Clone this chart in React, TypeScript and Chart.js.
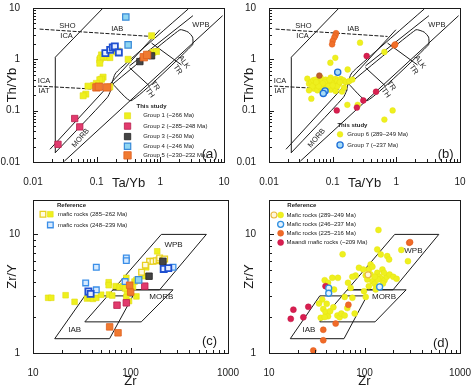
import React, { useEffect, useRef } from "react";
import { Chart, registerables } from "chart.js";
Chart.register(...registerables);

type Pt = [number, number];

// ---------------- Panel (a) : Th/Yb vs Ta/Yb, this study ----------------
const aGroup1: Pt[] = [
  [0.73, 2.88], [0.119, 1.22], [0.112, 0.98], [0.115, 1.05], [0.126, 1.1], [0.146, 1.1],
  [0.161, 1.08], [0.205, 1.4], [0.217, 1.45], [0.312, 1.0], [0.112, 0.84], [0.126, 0.45],
  [0.119, 0.41], [0.112, 0.4], [0.099, 0.34], [0.09, 0.31], [0.073, 0.3], [0.0675, 0.21],
  [0.0613, 0.195], [0.161, 0.29], [0.77, 1.38], [0.87, 1.42], [0.66, 1.25],
];
const aGroup2: Pt[] = [[0.0452, 0.0703], [0.0542, 0.0483], [0.0247, 0.0221]];
const aGroup3: Pt[] = [[0.477, 0.904], [0.728, 1.17]];
const aGroup4: Pt[] = [[0.287, 6.67], [0.312, 1.91]];
const aGroup4b: Pt[] = [[0.137, 1.32], [0.163, 1.53], [0.179, 1.7], [0.193, 1.78], [0.223, 1.36]];
const aGroup5: Pt[] = [[0.099, 0.284], [0.108, 0.293], [0.146, 0.284], [0.55, 1.1], [0.62, 1.22]];

// ---------------- Panel (b) ----------------
const bGroup6: Pt[] = [
  [0.269, 2.11], [0.11, 1.07], [0.092, 0.857], [0.172, 0.634], [0.649, 1.39], [0.0462, 0.171],
  [0.247, 0.13], [0.17, 0.13], [0.875, 0.101], [0.649, 0.067], [0.14, 0.235],
  [0.04, 0.42], [0.0425, 0.336], [0.0462, 0.362], [0.0497, 0.391], [0.054, 0.403], [0.0574, 0.336],
  [0.061, 0.362], [0.0648, 0.441], [0.0688, 0.38], [0.0731, 0.312], [0.0776, 0.403], [0.0824, 0.346],
  [0.0875, 0.391], [0.093, 0.441], [0.0988, 0.336], [0.105, 0.368], [0.111, 0.415], [0.118, 0.38],
  [0.126, 0.336], [0.134, 0.415], [0.147, 0.391], [0.16, 0.362], [0.181, 0.374], [0.204, 0.403],
  [0.0509, 0.268], [0.0574, 0.249], [0.0648, 0.281], [0.0824, 0.281], [0.093, 0.256], [0.105, 0.289],
  [0.111, 0.241], [0.048, 0.298], [0.118, 0.298], [0.151, 0.281], [0.0425, 0.249], [0.0688, 0.231],
  [0.075, 0.36], [0.085, 0.3], [0.1, 0.31], [0.07, 0.34], [0.09, 0.4], [0.13, 0.36], [0.06, 0.3],
  [0.055, 0.36],
];
const bGroup7: Pt[] = [[0.12, 0.561], [0.0759, 0.241], [0.0713, 0.217]];
const bOrange: Pt[] = [[0.113, 3.23], [0.11, 2.9], [0.106, 2.65], [0.1, 2.28], [0.098, 1.96], [0.931, 1.87], [0.96, 1.95]];
const bBrown: Pt[] = [[0.0618, 0.483]];
const bMagenta: Pt[] = [[0.342, 1.16], [0.48, 0.234], [0.303, 0.158], [0.116, 0.101], [0.24, 0.115]];

// ---------------- Th/Yb - Ta/Yb field boundaries ----------------
const fOuter: Pt[] = [[0.0224, 0.015], [0.0224, 1.1], [0.126, 10]];
const fArrayUpper: Pt[] = [[0.0185, 0.0177], [0.984, 3.77]];
const fArcCurve: Pt[] = [[0.0224, 0.0152], [0.146, 0.179], [0.165, 0.245], [0.177, 0.367], [0.195, 0.519], [0.237, 0.67], [2.74, 9.56]];
const fArrayUpper2: Pt[] = [[0.327, 0.743], [3.25, 7.08]];
const fWpb: Pt[] = [[0.179, 0.33], [0.348, 0.156], [3.21, 1.92], [3.21, 2.71], [2.74, 3.39], [2.03, 3.77], [0.179, 0.33]];
const fArrayLower: Pt[] = [[0.0311, 0.0104], [9.5, 7.08]];
const fTrTh: Pt[] = [[0.327, 0.69], [0.676, 0.302]];
const fAlkTr: Pt[] = [[0.728, 2.07], [2.15, 0.778]];
const fShoIca: Pt[] = [[0.0127, 3.88], [0.728, 2.79]];
const fIcaIat: Pt[] = [[0.012, 0.302], [0.171, 0.252]];

// ---------------- Panel (c) : Zr/Y vs Zr ----------------
const cRefYellow: Pt[] = [
  [14.3, 2.92], [15.4, 2.92], [21.6, 3.07], [26.7, 2.7], [35.8, 2.88], [38.1, 2.92], [41.2, 2.86],
  [44.6, 2.92], [60.2, 3.11], [59.7, 3.95], [59.7, 3.73], [70.4, 3.66], [77.4, 3.59], [83.7, 3.66],
  [90.6, 4.3], [92.0, 3.21], [90.6, 2.96], [96.6, 2.74], [115, 3.0], [106, 3.6], [110, 4.0],
  [115, 4.13], [140, 4.44], [145, 5.28], [188, 7.2], [88, 3.5], [65, 3.05], [50, 3.1],
];
const cRefYellowOpen: Pt[] = [[157, 5.93], [170, 5.93], [184, 6.0], [196, 6.09], [199, 6.32], [215, 6.09], [224, 6.2], [142, 5.5], [130, 4.8]];
const cRefBlue: Pt[] = [[44.6, 5.28], [34.7, 3.9], [44.6, 3.41], [90.6, 6.32], [90.6, 6.01], [88, 4.0], [273, 5.28]];
const cGroup2: Pt[] = [[140, 3.66], [72.7, 2.53], [90.6, 2.65]];
const cGroup3: Pt[] = [[215, 5.93], [155, 4.44]];
const cGroup4: Pt[] = [[121, 4.13]];
const cGroup4b: Pt[] = [[219, 5.11], [244, 5.2], [37, 3.3], [39, 3.15]];
const cGroup5: Pt[] = [[98, 3.73], [100.4, 3.26], [61.1, 1.66], [74.5, 1.48]];

// ---------------- Panel (d) ----------------
const dRefYellow: Pt[] = [
  [140, 10.9], [59, 6.8], [243, 7.4], [285, 5.95], [173, 6.56], [181, 6.15], [136, 7.47], [148, 6.78],
  [116, 5.58], [111, 5.06], [121, 5.33], [87.5, 5.23], [97, 5.06], [103, 4.5], [80.7, 4.5], [74.6, 4.39],
  [116, 4.59], [136, 4.74], [142, 4.39], [150, 4.22], [162, 4.11], [156, 3.85], [171, 4.39], [183, 4.59],
  [121, 4.03], [128, 3.83], [134, 3.61], [138, 4.17], [111, 3.66], [98.8, 3.32], [71.6, 3.54], [67.2, 3.91],
  [74.6, 2.92], [62, 2.97], [52.7, 4.3], [46, 4.3], [38.3, 4.11], [41.5, 3.91], [48, 3.43], [36.1, 2.82],
  [33.4, 2.61], [40.2, 2.6], [37, 2.35], [39.1, 2.21], [41.5, 2.04], [34.8, 1.98], [38.3, 2.01], [43.6, 2.25],
  [47.2, 2.43], [52, 2.07], [55, 2.0], [57.2, 2.15], [62, 2.07], [66, 2.39], [78.9, 2.15], [103, 2.97],
  [200, 4.39], [217, 4.22], [128, 4.39], [131, 3.43], [107, 4.17], [154, 5.06], [160, 4.74],
];
const dRefYellowOpen: Pt[] = [[109, 4.56]];
const dRefBlue: Pt[] = [[42.2, 3.52], [42.2, 3.19], [144, 3.61]];
const dRefOrange: Pt[] = [[294, 8.5], [300, 8.6], [67.8, 2.55], [49.9, 1.77], [37, 1.57], [37, 1.28], [29.1, 1.05]];
const dRefRed: Pt[] = [[16.9, 1.94], [18, 2.32], [22.9, 2.0], [25.8, 2.45], [39.1, 3.66]];

// ---------------- Zr/Y - Zr fields ----------------
const zIab: Pt[] = [[16.7, 1.32], [61, 1.32], [106, 3.03], [34, 3.03], [16.7, 1.32]];
const zMorb: Pt[] = [[34, 1.83], [129, 1.83], [273, 3.41], [66, 3.41], [34, 1.83]];
const zWpb: Pt[] = [[66, 3.41], [199, 3.41], [600, 10], [207, 10], [66, 3.41]];

// ---------------- Axis settings ----------------
const thybRange = { xmin: 0.01, xmax: 10, ymin: 0.01, ymax: 10 };
const zrRange = { xmin: 10, xmax: 1000, ymin: 1, ymax: 19.5 };

const FONT = '"Liberation Sans", Arial, Helvetica, sans-serif';
const INK = "#1a1a1a";

const YEL = "#eef01e";
const toXY = (a: Pt[]) => a.map(([x, y]) => ({ x, y }));

function pts(label: string, data: Pt[], style: string, r: number, fill: string, stroke: string, lw: number) {
  return {
    label, data: toXY(data), pointStyle: style, pointRadius: r, backgroundColor: fill,
    borderColor: stroke, borderWidth: lw, showLine: false, order: 0,
  };
}
function line(data: Pt[], dash: number[] = [], tension = 0) {
  return {
    label: "_line", data: toXY(data), showLine: true, pointRadius: 0, borderColor: INK,
    borderWidth: 1, borderDash: dash, tension, fill: false, order: 5,
  };
}

const isPow10 = (v: number) => Math.abs(Math.log10(v) - Math.round(Math.log10(v))) < 1e-6;
const fmt = (v: number) => (isPow10(v) ? String(Number(v.toPrecision(3))) : "");
function makeTicks(min: number, max: number) {
  const out: { value: number }[] = [];
  for (let e = Math.floor(Math.log10(min)); e <= Math.ceil(Math.log10(max)); e++) {
    for (let k = 1; k < 10; k++) {
      const v = Number((k * Math.pow(10, e)).toPrecision(6));
      if (v >= min * 0.9999 && v <= max * 1.0001) out.push({ value: v });
    }
  }
  return out;
}

function drawMarker(ctx: CanvasRenderingContext2D, style: string, x: number, y: number, r: number, fill: string, stroke: string, lw: number) {
  ctx.beginPath();
  if (style === "rect") {
    const s = r * Math.SQRT1_2;
    ctx.rect(x - s, y - s, 2 * s, 2 * s);
  } else ctx.arc(x, y, r, 0, Math.PI * 2);
  ctx.fillStyle = fill;
  ctx.fill();
  if (lw > 0) {
    ctx.lineWidth = lw;
    ctx.strokeStyle = stroke;
    ctx.stroke();
  }
}

const framePlugin = {
  id: "frame",
  afterDraw(chart: any) {
    const { ctx, chartArea: a } = chart;
    const xs = chart.scales.x, ys = chart.scales.y;
    ctx.save();
    ctx.strokeStyle = INK;
    ctx.lineWidth = 1;
    ctx.strokeRect(Math.round(a.left) + 0.5, Math.round(a.top) + 0.5, Math.round(a.right - a.left), Math.round(a.bottom - a.top));
    ctx.beginPath();
    xs.ticks.forEach((t: any) => {
      const p = Math.round(xs.getPixelForValue(t.value)) + 0.5;
      const L = isPow10(t.value) ? 5 : 3;
      ctx.moveTo(p, a.bottom);
      ctx.lineTo(p, a.bottom - L);
    });
    ys.ticks.forEach((t: any) => {
      const p = Math.round(ys.getPixelForValue(t.value)) + 0.5;
      const L = isPow10(t.value) ? 5 : 3;
      ctx.moveTo(a.left, p);
      ctx.lineTo(a.left + L, p);
    });
    ctx.stroke();
    ctx.restore();
  },
};

const notesPlugin = {
  id: "notes",
  afterDraw(chart: any, _args: any, opts: any) {
    const { ctx, chartArea: a } = chart;
    (opts.items || []).forEach((it: any) => {
      const px = a.left + it.fx * (a.right - a.left);
      const py = a.top + it.fy * (a.bottom - a.top);
      ctx.save();
      ctx.translate(px, py);
      ctx.rotate(((it.rot || 0) * Math.PI) / 180);
      ctx.font = `${it.bold ? "bold " : ""}${it.size}px ${FONT}`;
      ctx.fillStyle = INK;
      ctx.textAlign = it.align || "center";
      ctx.textBaseline = "middle";
      ctx.fillText(it.t, 0, 0);
      ctx.restore();
    });
  },
};

const legendPlugin = {
  id: "legendBox",
  afterDraw(chart: any, _args: any, opts: any) {
    if (!opts || !opts.rows) return;
    const { ctx, chartArea: a } = chart;
    const W = a.right - a.left, H = a.bottom - a.top;
    const ds = chart.data.datasets;
    ctx.save();
    ctx.fillStyle = INK;
    ctx.textBaseline = "middle";
    ctx.textAlign = "left";
    ctx.font = `bold 6px ${FONT}`;
    ctx.fillText(opts.title.t, a.left + opts.title.fx * W, a.top + opts.title.fy * H);
    opts.rows.forEach((row: any) => {
      const y = a.top + row.fy * H;
      row.sw.forEach((s: any) => {
        const d = ds.find((q: any) => q.label === s.label);
        if (!d) return;
        drawMarker(ctx, d.pointStyle, a.left + s.fx * W, y, d.pointRadius, d.backgroundColor, d.borderColor, d.borderWidth);
      });
      ctx.fillStyle = INK;
      ctx.font = `6px ${FONT}`;
      ctx.fillText(row.t, a.left + row.tx * W, y);
    });
    ctx.restore();
  },
};

type Area = { left: number; top: number; right: number; bottom: number; yw: number; xh: number };

function makeConfig(datasets: any[], area: Area, range: any, xTitle: string, yTitle: string, xTitleLH: number, notes: any[], legend: any) {
  const tickFont = { family: FONT, size: 10 };
  return {
    type: "scatter",
    data: { datasets },
    options: {
      responsive: false,
      animation: false,
      events: [],
      layout: {
        padding: { left: area.left - area.yw, top: area.top, right: 474 - area.right, bottom: 385 - area.bottom - area.xh },
      },
      scales: {
        x: {
          type: "logarithmic", min: range.xmin, max: range.xmax,
          afterBuildTicks: (s: any) => { s.ticks = makeTicks(range.xmin, range.xmax); },
          afterFit: (s: any) => { s.height = area.xh; s.paddingLeft = 0; s.paddingRight = 0; },
          grid: { display: false }, border: { display: false },
          ticks: { autoSkip: false, maxRotation: 0, minRotation: 0, padding: 6, font: tickFont, color: INK, callback: (v: any) => fmt(Number(v)) },
          title: { display: true, text: xTitle, color: INK, font: { family: FONT, size: 13, lineHeight: xTitleLH }, padding: 0 },
        },
        y: {
          type: "logarithmic", min: range.ymin, max: range.ymax,
          afterBuildTicks: (s: any) => { s.ticks = makeTicks(range.ymin, range.ymax); },
          afterFit: (s: any) => { s.width = area.yw; s.paddingTop = 0; s.paddingBottom = 0; },
          grid: { display: false }, border: { display: false },
          ticks: { autoSkip: false, padding: 5, font: tickFont, color: INK, callback: (v: any) => fmt(Number(v)) },
          title: { display: true, text: yTitle, color: INK, font: { family: FONT, size: 13, lineHeight: 1.2 }, padding: { top: 5, bottom: 0 } },
        },
      },
      plugins: {
        legend: { display: false },
        tooltip: { enabled: false },
        notes: { items: notes },
        legendBox: legend,
      },
    },
    plugins: [framePlugin, notesPlugin, legendPlugin],
  };
}

function thybLines() {
  return [
    line(fOuter), line(fArrayUpper), line(fArcCurve, [], 0.25), line(fArrayUpper2), line(fWpb, [], 0.15),
    line(fArrayLower), line(fTrTh), line(fAlkTr), line(fShoIca, [4, 1.5]), line(fIcaIat, [4, 1.5]),
  ];
}
function zrLines() {
  return [line(zIab), line(zMorb), line(zWpb)];
}

const thybNotes = (letter: string) => [
  { t: "SHO", fx: 0.18, fy: 0.118, size: 7.5 },
  { t: "ICA", fx: 0.176, fy: 0.182, size: 7.5 },
  { t: "IAB", fx: 0.441, fy: 0.137, size: 7.5 },
  { t: "WPB", fx: 0.879, fy: 0.109, size: 7.5 },
  { t: "ICA", fx: 0.058, fy: 0.476, size: 7.5 },
  { t: "IAT", fx: 0.058, fy: 0.54, size: 7.5 },
  { t: "MORB", fx: 0.25, fy: 0.845, size: 7.5, rot: -50 },
  { t: "ALK", fx: 0.79, fy: 0.352, size: 7.5, rot: 55 },
  { t: "TR", fx: 0.758, fy: 0.4, size: 7.5, rot: 55 },
  { t: "TR", fx: 0.64, fy: 0.505, size: 7.5, rot: 55 },
  { t: "TH", fx: 0.612, fy: 0.552, size: 7.5, rot: 55 },
  { t: letter, fx: 0.925, fy: 0.948, size: 13 },
];

function buildA() {
  const ds = [
    pts("g5", aGroup5, "rect", 5.2, "#f07a30", "#e06020", 0.8),
    pts("g3", aGroup3, "rect", 4.5, "#444", "#222", 0.8),
    pts("g4", aGroup4, "rect", 4.5, "#8fd6f2", "#3a8ad8", 1.2),
    pts("g4b", aGroup4b, "rect", 4.3, "#e6eeff", "#1f4fd0", 1.8),
    pts("g2", aGroup2, "rect", 4.5, "#e23a6e", "#b8204c", 0.8),
    pts("g1", aGroup1, "rect", 4.3, YEL, "#e2dc10", 0.6),
    ...thybLines(),
  ];
  const legend = {
    title: { t: "This study", fx: 0.542, fy: 0.637 },
    rows: [
      { t: "Group 1 (~266 Ma)", fy: 0.7, tx: 0.577, sw: [{ label: "g1", fx: 0.495 }] },
      { t: "Group 2 (~285–248 Ma)", fy: 0.767, tx: 0.577, sw: [{ label: "g2", fx: 0.495 }] },
      { t: "Group 3 (~260 Ma)", fy: 0.835, tx: 0.577, sw: [{ label: "g3", fx: 0.495 }] },
      { t: "Group 4 (~246 Ma)", fy: 0.898, tx: 0.577, sw: [{ label: "g4", fx: 0.495 }] },
      { t: "Group 5 (~230–232 Ma)", fy: 0.957, tx: 0.577, sw: [{ label: "g5", fx: 0.495 }] },
    ],
  };
  return makeConfig(ds, { left: 33, top: 8, right: 224, bottom: 162, yw: 33, xh: 28 }, thybRange, "Ta/Yb", "Th/Yb", 1, thybNotes("(a)"), legend);
}

function buildB() {
  const ds = [
    pts("g7", bGroup7, "circle", 3.1, "#a8dcf6", "#1e6fd8", 1.3),
    pts("bmag", bMagenta, "circle", 2.9, "#d8204f", "#c01040", 0.5),
    pts("bor", bOrange, "circle", 2.9, "#f0702a", "#e05a18", 0.5),
    pts("bbr", bBrown, "circle", 2.9, "#c0602a", "#a04a18", 0.5),
    pts("g6", bGroup6, "circle", 2.9, YEL, "#e6e010", 0.4),
    ...thybLines(),
  ];
  const legend = {
    title: { t: "This study", fx: 0.358, fy: 0.764 },
    rows: [
      { t: "Group 6 (289–249 Ma)", fy: 0.82, tx: 0.41, sw: [{ label: "g6", fx: 0.372 }] },
      { t: "Group 7 (~237 Ma)", fy: 0.89, tx: 0.41, sw: [{ label: "g7", fx: 0.372 }] },
    ],
  };
  return makeConfig(ds, { left: 269, top: 8, right: 460, bottom: 162, yw: 32, xh: 28 }, thybRange, "Ta/Yb", "Th/Yb", 1, thybNotes("(b)"), legend);
}

function buildC() {
  const ds = [
    pts("c3", cGroup3, "rect", 4.6, "#444", "#222", 0.8),
    pts("c4", cGroup4, "rect", 4.6, "#8fd6f2", "#3a8ad8", 1.2),
    pts("c4b", cGroup4b, "rect", 4.3, "#e6eeff", "#1f4fd0", 1.8),
    pts("c2", cGroup2, "rect", 4.6, "#e23a6e", "#b8204c", 0.8),
    pts("c5", cGroup5, "rect", 4.6, "#f07a30", "#e06020", 0.8),
    pts("rb", cRefBlue, "rect", 4.0, "#d6eaff", "#3a8ee8", 1.3),
    pts("ryo", cRefYellowOpen, "rect", 4.0, "#fffbe0", "#e8d020", 1.3),
    pts("ry", cRefYellow, "rect", 4.0, YEL, "#e2dc10", 0.6),
    ...zrLines(),
  ];
  const notes = [
    { t: "WPB", fx: 0.721, fy: 0.293, size: 8 },
    { t: "MORB", fx: 0.658, fy: 0.635, size: 8 },
    { t: "IAB", fx: 0.214, fy: 0.848, size: 8 },
    { t: "(c)", fx: 0.905, fy: 0.924, size: 13 },
  ];
  const legend = {
    title: { t: "Reference", fx: 0.123, fy: 0.037 },
    rows: [
      { t: "mafic rocks (285–262 Ma)", fy: 0.093, tx: 0.128, sw: [{ label: "ryo", fx: 0.051 }, { label: "ry", fx: 0.089 }] },
      { t: "mafic rocks (248–239 Ma)", fy: 0.163, tx: 0.128, sw: [{ label: "rb", fx: 0.089 }] },
    ],
  };
  return makeConfig(ds, { left: 33, top: 200, right: 228, bottom: 353, yw: 33, xh: 32 }, zrRange, "Zr", "Zr/Y", 0.5, notes, legend);
}

function buildD() {
  const ds = [
    pts("db", dRefBlue, "circle", 3.0, "#e4f2ff", "#2e8fe0", 1.3),
    pts("dor", dRefOrange, "circle", 3.0, "#f06a28", "#e05818", 0.5),
    pts("dred", dRefRed, "circle", 3.0, "#d81e50", "#c01040", 0.5),
    pts("dyo", dRefYellowOpen, "circle", 3.0, "#fff6dc", "#e8b840", 1.1),
    pts("dy", dRefYellow, "circle", 3.0, YEL, "#e6e010", 0.4),
    ...zrLines(),
  ];
  const notes = [
    { t: "WPB", fx: 0.756, fy: 0.33, size: 8 },
    { t: "MORB", fx: 0.602, fy: 0.635, size: 8 },
    { t: "IAB", fx: 0.209, fy: 0.848, size: 8 },
    { t: "(d)", fx: 0.9, fy: 0.937, size: 13 },
  ];
  const legend = {
    title: { t: "Reference", fx: 0.096, fy: 0.037 },
    rows: [
      { t: "Mafic rocks (289–249 Ma)", fy: 0.098, tx: 0.092, sw: [{ label: "dyo", fx: 0.026 }, { label: "dy", fx: 0.061 }] },
      { t: "Mafic rocks (246–237 Ma)", fy: 0.159, tx: 0.092, sw: [{ label: "db", fx: 0.061 }] },
      { t: "Mafic rocks (225–216 Ma)", fy: 0.217, tx: 0.092, sw: [{ label: "dor", fx: 0.061 }] },
      { t: "Maandi mafic rocks (~209 Ma)", fy: 0.278, tx: 0.092, sw: [{ label: "dred", fx: 0.061 }] },
    ],
  };
  return makeConfig(ds, { left: 269, top: 200, right: 460, bottom: 353, yw: 32, xh: 32 }, zrRange, "Zr", "Zr/Y", 0.5, notes, legend);
}

function Panel({ build }: { build: () => any }) {
  const ref = useRef<HTMLCanvasElement | null>(null);
  useEffect(() => {
    if (!ref.current) return;
    const chart = new Chart(ref.current, build());
    return () => chart.destroy();
  }, [build]);
  return (
    <canvas
      ref={ref}
      width={474}
      height={385}
      style={{ position: "absolute", left: 0, top: 0, width: 474, height: 385 }}
    />
  );
}

export default function App() {
  return (
    <div style={{ position: "fixed", left: 0, top: 0, width: 474, height: 385, background: "#fff", overflow: "hidden" }}>
      <Panel build={buildA} />
      <Panel build={buildB} />
      <Panel build={buildC} />
      <Panel build={buildD} />
    </div>
  );
}
